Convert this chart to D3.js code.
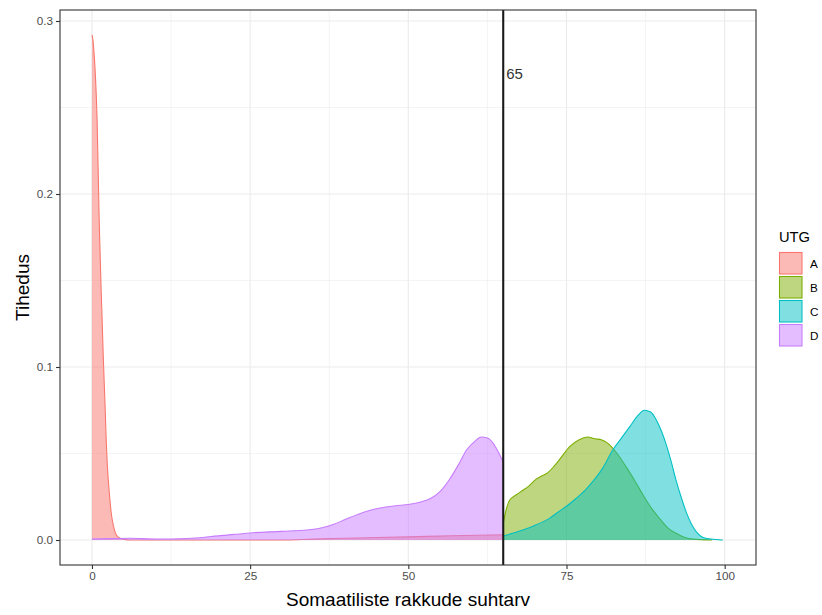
<!DOCTYPE html>
<html>
<head>
<meta charset="utf-8">
<script src="https://cdn.jsdelivr.net/npm/d3@7"></script>
<style>
  html, body { margin: 0; padding: 0; background: #fff; }
  svg { display: block; font-family: "Liberation Sans", Arial, sans-serif; }
</style>
</head>
<body>
<svg id="chart" width="822" height="615"></svg>
<script>
// ---- data ----
const groups = ["A", "B", "C", "D"];
const groupColors = ["#F8766D", "#7CAE00", "#00BFC4", "#C77CFF"];

const xA = [0, 0.16, 0.32, 0.48, 0.65, 0.81, 0.97, 1.13, 1.29, 1.45, 1.62, 1.78, 1.94, 2.1, 2.26, 2.42, 2.75, 3.07, 3.4, 3.72, 4.2, 5, 6, 30, 35, 40, 50, 57, 65];
const yA = [0.292, 0.289, 0.282, 0.273, 0.26, 0.243, 0.216, 0.187, 0.166, 0.145, 0.126, 0.107, 0.091, 0.075, 0.057, 0.044, 0.027, 0.015, 0.008, 0.004, 0.0015, 0.0005, 0, 0, 0.0005, 0.001, 0.0018, 0.0025, 0.003];

const xB = [65, 65.5, 66, 67, 68, 69, 70.2, 71, 72, 73, 74, 75.5, 77, 78.3, 79.5, 80.5, 81.5, 83, 84.4, 86, 87.1, 88.5, 89.7, 91, 92.3, 93.5, 95, 98];
const yB = [0.0098, 0.018, 0.023, 0.026, 0.0285, 0.031, 0.0352, 0.0368, 0.0388, 0.0425, 0.047, 0.054, 0.058, 0.0595, 0.0585, 0.058, 0.056, 0.050, 0.0424, 0.033, 0.026, 0.018, 0.0125, 0.007, 0.0039, 0.0018, 0.0005, 0];

const xC = [65, 67, 69.7, 72.3, 74, 75, 76.5, 78, 79.2, 80.8, 82.3, 83.7, 85, 86.3, 87.3, 88.3, 89.2, 90, 90.7, 91.5, 92.3, 93.1, 93.9, 94.7, 95.5, 96.3, 97, 98.5, 99.7];
const yC = [0.0023, 0.0045, 0.008, 0.0125, 0.017, 0.0195, 0.024, 0.029, 0.034, 0.042, 0.052, 0.059, 0.0655, 0.072, 0.075, 0.074, 0.0694, 0.063, 0.0559, 0.046, 0.0347, 0.025, 0.0164, 0.0095, 0.0048, 0.002, 0.001, 0.0003, 0];

const xD = [0, 3, 6, 10, 15, 20, 25, 30, 34, 36, 38, 40, 42, 44, 46, 48, 50, 52, 53.5, 55, 56.5, 58, 59.2, 60.5, 61.5, 62.5, 63.4, 64.2, 65];
const yD = [0.0005, 0.0008, 0.001, 0.0006, 0.0009, 0.0024, 0.0041, 0.005, 0.0058, 0.0068, 0.0088, 0.0118, 0.0148, 0.0172, 0.0188, 0.0198, 0.0205, 0.022, 0.024, 0.028, 0.035, 0.044, 0.052, 0.057, 0.0595, 0.059, 0.056, 0.051, 0.045];

const xTicks = [0, 25, 50, 75, 100];
const xMinor = [12.5, 37.5, 62.5, 87.5];
const yTicks = [0.0, 0.1, 0.2, 0.3];
const yMinor = [0.05, 0.15, 0.25];
const cutoff = 65;

const xTitle = "Somaatiliste rakkude suhtarv";
const yTitle = "Tihedus";
const legendTitle = "UTG";

// ---- layout ----
const svg = d3.select("#chart");
const P = { left: 60, right: 756, top: 10, bottom: 565 };

const x = d3.scaleLinear().domain([-5.05, 104.95]).range([P.left, P.right]);
const y = d3.scaleLinear().domain([-0.01445, 0.30636]).range([P.bottom, P.top]);

const seriesX = [xA, xB, xC, xD];
const seriesY = [yA, yB, yC, yD];
const series = groups.map((g, i) => ({
  name: g, color: groupColors[i],
  pts: seriesX[i].map((v, j) => ({ x: v, y: seriesY[i][j] }))
}));

// panel background
svg.append("rect").attr("x", P.left).attr("y", P.top)
  .attr("width", P.right - P.left).attr("height", P.bottom - P.top).attr("fill", "#fff");

const grid = svg.append("g");
xMinor.forEach(v => grid.append("line").attr("x1", x(v)).attr("x2", x(v)).attr("y1", P.top).attr("y2", P.bottom)
  .attr("stroke", "#EBEBEB").attr("stroke-width", 0.55));
yMinor.forEach(v => grid.append("line").attr("y1", y(v)).attr("y2", y(v)).attr("x1", P.left).attr("x2", P.right)
  .attr("stroke", "#EBEBEB").attr("stroke-width", 0.55));
xTicks.forEach(v => grid.append("line").attr("x1", x(v)).attr("x2", x(v)).attr("y1", P.top).attr("y2", P.bottom)
  .attr("stroke", "#EBEBEB").attr("stroke-width", 1.1));
yTicks.forEach(v => grid.append("line").attr("y1", y(v)).attr("y2", y(v)).attr("x1", P.left).attr("x2", P.right)
  .attr("stroke", "#EBEBEB").attr("stroke-width", 1.1));

// densities
const area = d3.area().x(d => x(d.x)).y0(y(0)).y1(d => y(d.y)).curve(d3.curveMonotoneX);
const line = d3.line().x(d => x(d.x)).y(d => y(d.y)).curve(d3.curveMonotoneX);
const dg = svg.append("g");
series.forEach(s => {
  dg.append("path").attr("d", area(s.pts)).attr("fill", s.color).attr("fill-opacity", 0.5);
  dg.append("path").attr("d", line(s.pts)).attr("fill", "none").attr("stroke", s.color).attr("stroke-width", 1.07);
});

// cutoff line
svg.append("line").attr("x1", x(cutoff)).attr("x2", x(cutoff)).attr("y1", P.top).attr("y2", P.bottom)
  .attr("stroke", "#1a1a1a").attr("stroke-width", 2.1);
svg.append("text").attr("x", x(cutoff) + 3).attr("y", 79).attr("font-size", 15).attr("fill", "#333")
  .text(String(cutoff));

// panel border
svg.append("rect").attr("x", P.left).attr("y", P.top)
  .attr("width", P.right - P.left).attr("height", P.bottom - P.top)
  .attr("fill", "none").attr("stroke", "#333333").attr("stroke-width", 1.1);

// axes
const xAxis = d3.axisBottom(x).tickValues(xTicks).tickSize(4).tickPadding(3).tickFormat(d3.format("d"));
const gx = svg.append("g").attr("transform", `translate(0,${P.bottom})`).call(xAxis);
gx.select(".domain").remove();
gx.selectAll(".tick line").attr("stroke", "#333").attr("stroke-width", 1.1);
gx.selectAll(".tick text").attr("fill", "#4D4D4D").attr("font-size", 11.7)
  .attr("font-family", "Liberation Sans, Arial, sans-serif");

const yAxis = d3.axisLeft(y).tickValues(yTicks).tickSize(4).tickPadding(3).tickFormat(d3.format(".1f"));
const gy = svg.append("g").attr("transform", `translate(${P.left},0)`).call(yAxis);
gy.select(".domain").remove();
gy.selectAll(".tick line").attr("stroke", "#333").attr("stroke-width", 1.1);
gy.selectAll(".tick text").attr("fill", "#4D4D4D").attr("font-size", 11.7)
  .attr("font-family", "Liberation Sans, Arial, sans-serif");

// axis titles
svg.append("text").attr("x", (P.left + P.right) / 2).attr("y", 606).attr("text-anchor", "middle")
  .attr("font-size", 19).attr("fill", "#000").text(xTitle);
svg.append("text").attr("transform", `translate(29,${(P.top + P.bottom) / 2}) rotate(-90)`)
  .attr("text-anchor", "middle").attr("font-size", 19).attr("fill", "#000").text(yTitle);

// legend
const lg = svg.append("g");
lg.append("text").attr("x", 779).attr("y", 242).attr("font-size", 14.7).attr("fill", "#000").text(legendTitle);
series.forEach((s, i) => {
  const top = 252.5 + i * 24;
  lg.append("rect").attr("x", 779.5).attr("y", top).attr("width", 22.5).attr("height", 21.5)
    .attr("fill", s.color).attr("fill-opacity", 0.5).attr("stroke", s.color).attr("stroke-width", 1.07);
  lg.append("text").attr("x", 810).attr("y", top + 11).attr("dy", "0.35em")
    .attr("font-size", 11.7).attr("fill", "#000").text(s.name);
});
</script>
</body>
</html>
